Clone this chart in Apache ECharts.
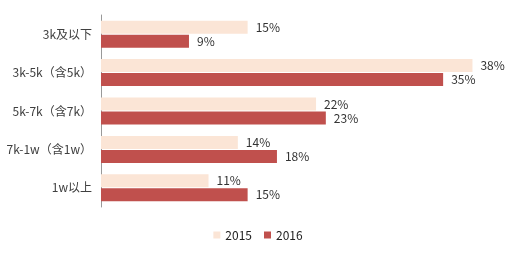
<!DOCTYPE html>
<html><head><meta charset="utf-8">
<script src="https://cdn.jsdelivr.net/npm/echarts@6/dist/echarts.min.js"></script>
<style>html,body{margin:0;padding:0;background:#fff}#c{width:516px;height:254px}</style>
</head><body><div id="c"></div>
<script>
const categories = ['3k及以下', '3k-5k（含5k）', '5k-7k（含7k）', '7k-1w（含1w）', '1w以上'];
const seriesNames = ['2015', '2016'];
const values2015 = [15, 38, 22, 14, 11];
const values2016 = [9, 35, 23, 18, 15];

const font = '"Noto Sans CJK SC", "Noto Sans", sans-serif';
const chart = echarts.init(document.getElementById('c'), null, {renderer: 'canvas'});
chart.setOption({
  animation: false,
  backgroundColor: '#ffffff',
  grid: {left: 101, right: 24, top: 15, bottom: 47, containLabel: false},
  legend: {
    bottom: 8, left: 'center', itemWidth: 7, itemHeight: 7, itemGap: 12,
    textStyle: {fontFamily: font, fontSize: 12, color: '#222'},
    data: seriesNames.map(n => ({name: n, icon: 'rect'}))
  },
  xAxis: {type: 'value', min: 0, max: 40, show: false, splitLine: {show: false}},
  yAxis: {
    type: 'category', data: categories, inverse: true,
    axisLine: {show: true, lineStyle: {color: '#999999', width: 1}},
    axisTick: {show: false},
    axisLabel: {fontFamily: font, fontSize: 12, color: '#404040', margin: 9}
  },
  series: [
    {name: seriesNames[0], type: 'bar', data: values2015, barWidth: 13, barGap: '8%',
     itemStyle: {color: '#fbe5d6'},
     label: {show: true, position: 'right', distance: 8, formatter: '{c}%', fontFamily: font, fontSize: 12, color: '#333333'}},
    {name: seriesNames[1], type: 'bar', data: values2016, barWidth: 13, barGap: '8%',
     itemStyle: {color: '#c0504d'},
     label: {show: true, position: 'right', distance: 8, formatter: '{c}%', fontFamily: font, fontSize: 12, color: '#333333'}}
  ]
});
</script></body></html>
